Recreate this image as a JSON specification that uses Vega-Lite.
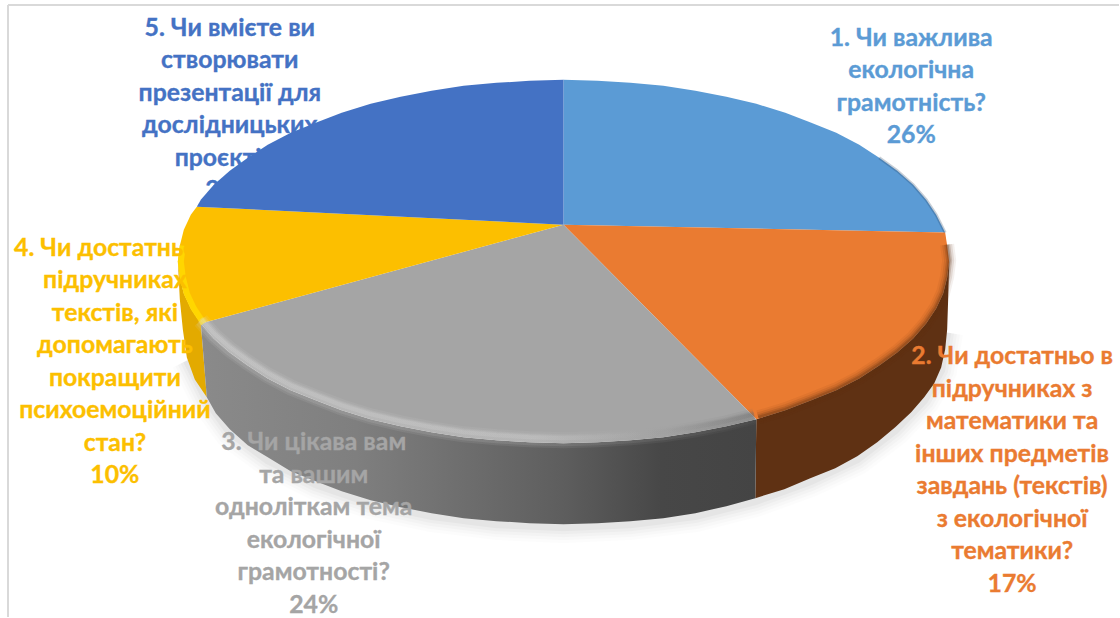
{
  "$schema": "https://vega.github.io/schema/vega-lite/v6.json",
  "width": 1120,
  "height": 618,
  "autosize": {"type": "fit", "contains": "padding"},
  "padding": 0,
  "background": "white",
  "view": {"stroke": null},
  "datasets": {
    "frame": [
      {"x": 8, "y": 5, "x2": 8, "y2": 618},
      {"x": 8, "y": 5, "x2": 1120, "y2": 5}
    ],
    "ground": [
      {"i": 2, "x": 948, "y": 330}, {"i": 3, "x": 942, "y": 368}, {"i": 4, "x": 925, "y": 398},
      {"i": 5, "x": 896, "y": 428}, {"i": 6, "x": 858, "y": 457}, {"i": 7, "x": 811, "y": 479}, {"i": 8, "x": 756, "y": 499},
      {"i": 9, "x": 696, "y": 514}, {"i": 10, "x": 631, "y": 522}, {"i": 11, "x": 564, "y": 525}, {"i": 12, "x": 497, "y": 522},
      {"i": 13, "x": 432, "y": 514}, {"i": 14, "x": 371, "y": 501}, {"i": 15, "x": 316, "y": 482}, {"i": 16, "x": 268, "y": 458},
      {"i": 17, "x": 230, "y": 430}, {"i": 18, "x": 207, "y": 398}, {"i": 19, "x": 187, "y": 358}
    ],
    "wallOrange": [
      {"i": 1, "x": 950, "y": 262}, {"i": 2, "x": 948, "y": 278}, {"i": 3, "x": 944, "y": 294}, {"i": 4, "x": 937, "y": 309},
      {"i": 5, "x": 927, "y": 324}, {"i": 6, "x": 914, "y": 339}, {"i": 7, "x": 898, "y": 353}, {"i": 8, "x": 880, "y": 366},
      {"i": 9, "x": 860, "y": 379}, {"i": 10, "x": 837, "y": 391}, {"i": 11, "x": 812, "y": 401}, {"i": 12, "x": 786, "y": 411},
      {"i": 13, "x": 757, "y": 420}, {"i": 14, "x": 756, "y": 499}, {"i": 15, "x": 785, "y": 490}, {"i": 16, "x": 811, "y": 479},
      {"i": 17, "x": 836, "y": 469}, {"i": 18, "x": 858, "y": 457}, {"i": 19, "x": 878, "y": 443}, {"i": 20, "x": 896, "y": 428},
      {"i": 21, "x": 912, "y": 413}, {"i": 22, "x": 925, "y": 398}, {"i": 23, "x": 935, "y": 384}, {"i": 24, "x": 942, "y": 368},
      {"i": 25, "x": 946, "y": 350}, {"i": 26, "x": 948, "y": 330}, {"i": 27, "x": 949, "y": 300}
    ],
    "wallGray": [
      {"i": 1, "x": 757, "y": 420}, {"i": 2, "x": 727, "y": 427}, {"i": 3, "x": 696, "y": 433}, {"i": 4, "x": 664, "y": 438},
      {"i": 5, "x": 631, "y": 441}, {"i": 6, "x": 598, "y": 443}, {"i": 7, "x": 564, "y": 444}, {"i": 8, "x": 530, "y": 443},
      {"i": 9, "x": 497, "y": 441}, {"i": 10, "x": 464, "y": 438}, {"i": 11, "x": 432, "y": 433}, {"i": 12, "x": 401, "y": 427},
      {"i": 13, "x": 371, "y": 420}, {"i": 14, "x": 342, "y": 411}, {"i": 15, "x": 316, "y": 401}, {"i": 16, "x": 291, "y": 391},
      {"i": 17, "x": 268, "y": 379}, {"i": 18, "x": 248, "y": 366}, {"i": 19, "x": 230, "y": 353}, {"i": 20, "x": 214, "y": 339},
      {"i": 21, "x": 201, "y": 324}, {"i": 22, "x": 207, "y": 398}, {"i": 23, "x": 216, "y": 414}, {"i": 24, "x": 230, "y": 430},
      {"i": 25, "x": 248, "y": 446}, {"i": 26, "x": 268, "y": 458}, {"i": 27, "x": 291, "y": 472}, {"i": 28, "x": 316, "y": 482},
      {"i": 29, "x": 342, "y": 492}, {"i": 30, "x": 371, "y": 501}, {"i": 31, "x": 401, "y": 508}, {"i": 32, "x": 432, "y": 514},
      {"i": 33, "x": 464, "y": 519}, {"i": 34, "x": 497, "y": 522}, {"i": 35, "x": 530, "y": 524}, {"i": 36, "x": 564, "y": 525},
      {"i": 37, "x": 598, "y": 524}, {"i": 38, "x": 631, "y": 522}, {"i": 39, "x": 664, "y": 519}, {"i": 40, "x": 696, "y": 514},
      {"i": 41, "x": 727, "y": 507}, {"i": 42, "x": 756, "y": 499}
    ],
    "wallYellow": [
      {"i": 1, "x": 201, "y": 324}, {"i": 2, "x": 191, "y": 309}, {"i": 3, "x": 184, "y": 294}, {"i": 4, "x": 180, "y": 278},
      {"i": 5, "x": 178, "y": 262}, {"i": 6, "x": 180, "y": 300}, {"i": 7, "x": 183, "y": 330}, {"i": 8, "x": 187, "y": 358},
      {"i": 9, "x": 195, "y": 380}, {"i": 10, "x": 207, "y": 398}
    ],
    "faces": [
      {"q": "q1", "i": 0, "x": 564, "y": 225}, {"q": "q1", "i": 1, "x": 564, "y": 80}, {"q": "q1", "i": 2, "x": 598, "y": 81},
      {"q": "q1", "i": 3, "x": 631, "y": 83}, {"q": "q1", "i": 4, "x": 664, "y": 86}, {"q": "q1", "i": 5, "x": 696, "y": 91},
      {"q": "q1", "i": 6, "x": 727, "y": 97}, {"q": "q1", "i": 7, "x": 757, "y": 104}, {"q": "q1", "i": 8, "x": 786, "y": 113},
      {"q": "q1", "i": 9, "x": 812, "y": 123}, {"q": "q1", "i": 10, "x": 837, "y": 133}, {"q": "q1", "i": 11, "x": 860, "y": 145},
      {"q": "q1", "i": 12, "x": 880, "y": 158}, {"q": "q1", "i": 13, "x": 898, "y": 171}, {"q": "q1", "i": 14, "x": 914, "y": 185},
      {"q": "q1", "i": 15, "x": 927, "y": 200}, {"q": "q1", "i": 16, "x": 937, "y": 215}, {"q": "q1", "i": 17, "x": 946, "y": 233},
      {"q": "q1", "i": 18, "x": 564, "y": 225},

      {"q": "q2", "i": 0, "x": 564, "y": 225}, {"q": "q2", "i": 1, "x": 946, "y": 233}, {"q": "q2", "i": 2, "x": 948, "y": 246},
      {"q": "q2", "i": 3, "x": 950, "y": 262}, {"q": "q2", "i": 4, "x": 948, "y": 278}, {"q": "q2", "i": 5, "x": 944, "y": 294},
      {"q": "q2", "i": 6, "x": 937, "y": 309}, {"q": "q2", "i": 7, "x": 927, "y": 324}, {"q": "q2", "i": 8, "x": 914, "y": 339},
      {"q": "q2", "i": 9, "x": 898, "y": 353}, {"q": "q2", "i": 10, "x": 880, "y": 366}, {"q": "q2", "i": 11, "x": 860, "y": 379},
      {"q": "q2", "i": 12, "x": 837, "y": 391}, {"q": "q2", "i": 13, "x": 812, "y": 401}, {"q": "q2", "i": 14, "x": 786, "y": 411},
      {"q": "q2", "i": 15, "x": 757, "y": 420}, {"q": "q2", "i": 16, "x": 564, "y": 225},

      {"q": "q3", "i": 0, "x": 564, "y": 225}, {"q": "q3", "i": 1, "x": 757, "y": 420}, {"q": "q3", "i": 2, "x": 727, "y": 427},
      {"q": "q3", "i": 3, "x": 696, "y": 433}, {"q": "q3", "i": 4, "x": 664, "y": 438}, {"q": "q3", "i": 5, "x": 631, "y": 441},
      {"q": "q3", "i": 6, "x": 598, "y": 443}, {"q": "q3", "i": 7, "x": 564, "y": 444}, {"q": "q3", "i": 8, "x": 530, "y": 443},
      {"q": "q3", "i": 9, "x": 497, "y": 441}, {"q": "q3", "i": 10, "x": 464, "y": 438}, {"q": "q3", "i": 11, "x": 432, "y": 433},
      {"q": "q3", "i": 12, "x": 401, "y": 427}, {"q": "q3", "i": 13, "x": 371, "y": 420}, {"q": "q3", "i": 14, "x": 342, "y": 411},
      {"q": "q3", "i": 15, "x": 316, "y": 401}, {"q": "q3", "i": 16, "x": 291, "y": 391}, {"q": "q3", "i": 17, "x": 268, "y": 379},
      {"q": "q3", "i": 18, "x": 248, "y": 366}, {"q": "q3", "i": 19, "x": 230, "y": 353}, {"q": "q3", "i": 20, "x": 214, "y": 339},
      {"q": "q3", "i": 21, "x": 201, "y": 324}, {"q": "q3", "i": 22, "x": 564, "y": 225},

      {"q": "q4", "i": 0, "x": 564, "y": 225}, {"q": "q4", "i": 1, "x": 201, "y": 324}, {"q": "q4", "i": 2, "x": 191, "y": 309},
      {"q": "q4", "i": 3, "x": 184, "y": 294}, {"q": "q4", "i": 4, "x": 180, "y": 278}, {"q": "q4", "i": 5, "x": 178, "y": 262},
      {"q": "q4", "i": 6, "x": 180, "y": 246}, {"q": "q4", "i": 7, "x": 184, "y": 230}, {"q": "q4", "i": 8, "x": 191, "y": 215},
      {"q": "q4", "i": 9, "x": 197, "y": 207}, {"q": "q4", "i": 10, "x": 564, "y": 225},

      {"q": "q5", "i": 0, "x": 564, "y": 225}, {"q": "q5", "i": 1, "x": 197, "y": 207}, {"q": "q5", "i": 2, "x": 201, "y": 200},
      {"q": "q5", "i": 3, "x": 214, "y": 185}, {"q": "q5", "i": 4, "x": 230, "y": 171}, {"q": "q5", "i": 5, "x": 248, "y": 158},
      {"q": "q5", "i": 6, "x": 268, "y": 145}, {"q": "q5", "i": 7, "x": 291, "y": 133}, {"q": "q5", "i": 8, "x": 316, "y": 123},
      {"q": "q5", "i": 9, "x": 342, "y": 113}, {"q": "q5", "i": 10, "x": 371, "y": 104}, {"q": "q5", "i": 11, "x": 401, "y": 97},
      {"q": "q5", "i": 12, "x": 432, "y": 91}, {"q": "q5", "i": 13, "x": 464, "y": 86}, {"q": "q5", "i": 14, "x": 497, "y": 83},
      {"q": "q5", "i": 15, "x": 530, "y": 81}, {"q": "q5", "i": 16, "x": 564, "y": 80}, {"q": "q5", "i": 17, "x": 564, "y": 225}
    ],
    "rimGray": [
      {"i": 1, "x": 201, "y": 324}, {"i": 2, "x": 214, "y": 339}, {"i": 3, "x": 230, "y": 353}, {"i": 4, "x": 248, "y": 366},
      {"i": 5, "x": 268, "y": 379}, {"i": 6, "x": 291, "y": 391}, {"i": 7, "x": 316, "y": 401}, {"i": 8, "x": 342, "y": 411},
      {"i": 9, "x": 371, "y": 420}, {"i": 10, "x": 401, "y": 427}, {"i": 11, "x": 432, "y": 433}, {"i": 12, "x": 464, "y": 438},
      {"i": 13, "x": 497, "y": 441}, {"i": 14, "x": 530, "y": 443}, {"i": 15, "x": 564, "y": 444}, {"i": 16, "x": 598, "y": 443},
      {"i": 17, "x": 631, "y": 441}, {"i": 18, "x": 664, "y": 438}, {"i": 19, "x": 696, "y": 433}, {"i": 20, "x": 727, "y": 427},
      {"i": 21, "x": 755, "y": 420}
    ],
    "rimOrange": [
      {"i": 1, "x": 948, "y": 246}, {"i": 2, "x": 950, "y": 262}, {"i": 3, "x": 948, "y": 278}, {"i": 4, "x": 944, "y": 294},
      {"i": 5, "x": 937, "y": 309}, {"i": 6, "x": 927, "y": 324}, {"i": 7, "x": 914, "y": 339}, {"i": 8, "x": 898, "y": 353},
      {"i": 9, "x": 880, "y": 366}, {"i": 10, "x": 860, "y": 379}, {"i": 11, "x": 837, "y": 391}, {"i": 12, "x": 812, "y": 401},
      {"i": 13, "x": 786, "y": 411}, {"i": 14, "x": 759, "y": 419}
    ],
    "rimBlue": [
      {"i": 1, "x": 880, "y": 158}, {"i": 2, "x": 898, "y": 171}, {"i": 3, "x": 914, "y": 185}, {"i": 4, "x": 927, "y": 200},
      {"i": 5, "x": 937, "y": 215}, {"i": 6, "x": 946, "y": 233}
    ],
    "rimYellow": [
      {"i": 1, "x": 201, "y": 324}, {"i": 2, "x": 191, "y": 309}, {"i": 3, "x": 184, "y": 294}, {"i": 4, "x": 180, "y": 278},
      {"i": 5, "x": 178, "y": 262}, {"i": 6, "x": 180, "y": 246}
    ],
    "labels": [
      {"q": "q1", "share": 26, "x": 912, "y": 46, "label": "1. Чи важлива\nекологічна\nграмотність?\n26%"},
      {"q": "q2", "share": 17, "x": 1013, "y": 365, "label": "2. Чи достатньо в\nпідручниках з\nматематики та\nінших предметів\nзавдань (текстів)\nз екологічної\nтематики?\n17%"},
      {"q": "q3", "share": 24, "x": 314, "y": 451, "label": "3. Чи цікава вам\nта вашим\nодноліткам тема\nекологічної\nграмотності?\n24%"},
      {"q": "q4", "share": 10, "x": 115, "y": 256, "label": "4. Чи достатньо в\nпідручниках\nтекстів, які\nдопомагають\nпокращити\nпсихоемоційний\nстан?\n10%"},
      {"q": "q5", "share": 23, "x": 230, "y": 36, "label": "5. Чи вмієте ви\nстворювати\nпрезентації для\nдослідницьких\nпроєктів?\n23%"}
    ]
  },
  "encoding": {
    "x": {"field": "x", "type": "quantitative", "scale": {"domain": [0, 1120]}, "axis": null},
    "y": {"field": "y", "type": "quantitative", "scale": {"domain": [618, 0]}, "axis": null},
    "order": {"field": "i", "type": "quantitative"}
  },
  "layer": [
    {
      "data": {"name": "frame"},
      "mark": {"type": "rule", "stroke": "#d9d9d9", "strokeWidth": 2},
      "encoding": {"x2": {"field": "x2"}, "y2": {"field": "y2"}, "order": null}
    },
    {"data": {"name": "ground"}, "mark": {"type": "line", "stroke": "#000000", "strokeWidth": 32, "opacity": 0.012, "yOffset": 3}},
    {"data": {"name": "ground"}, "mark": {"type": "line", "stroke": "#000000", "strokeWidth": 26, "opacity": 0.016, "yOffset": 3}},
    {"data": {"name": "ground"}, "mark": {"type": "line", "stroke": "#000000", "strokeWidth": 20, "opacity": 0.02, "yOffset": 3}},
    {"data": {"name": "ground"}, "mark": {"type": "line", "stroke": "#000000", "strokeWidth": 14, "opacity": 0.025, "yOffset": 3}},
    {"data": {"name": "ground"}, "mark": {"type": "line", "stroke": "#000000", "strokeWidth": 8, "opacity": 0.03, "yOffset": 3}},
    {"data": {"name": "wallYellow"}, "mark": {"type": "line", "filled": true, "color": "#e3aa00"}},
    {"data": {"name": "wallOrange"}, "mark": {"type": "line", "filled": true, "color": "#5f3113"}},
    {
      "data": {"name": "wallGray"},
      "mark": {
        "type": "line",
        "filled": true,
        "color": {
          "gradient": "linear", "x1": 0, "x2": 1, "y1": 0, "y2": 0,
          "stops": [
            {"offset": 0, "color": "#8a8a8a"},
            {"offset": 0.28, "color": "#7f7f7f"},
            {"offset": 0.65, "color": "#5e5e5e"},
            {"offset": 0.83, "color": "#474747"},
            {"offset": 1, "color": "#444444"}
          ]
        }
      }
    },
    {
      "data": {"name": "faces"},
      "mark": {"type": "line", "filled": true},
      "encoding": {
        "color": {
          "field": "q", "type": "nominal", "legend": null,
          "scale": {
            "domain": ["q1", "q2", "q3", "q4", "q5"],
            "range": ["#5b9bd5", "#ea7b31", "#a5a5a5", "#fcbf00", "#4472c4"]
          }
        }
      }
    },
    {"data": {"name": "rimBlue"}, "mark": {"type": "line", "stroke": "#1f3a5a", "strokeWidth": 3, "opacity": 0.25}},
    {"data": {"name": "rimOrange"}, "mark": {"type": "line", "stroke": "#5f3113", "strokeWidth": 14, "opacity": 0.07, "yOffset": -1}},
    {"data": {"name": "rimOrange"}, "mark": {"type": "line", "stroke": "#5f3113", "strokeWidth": 10, "opacity": 0.12, "yOffset": -1}},
    {"data": {"name": "rimOrange"}, "mark": {"type": "line", "stroke": "#5f3113", "strokeWidth": 6, "opacity": 0.2, "yOffset": -1}},
    {"data": {"name": "rimOrange"}, "mark": {"type": "line", "stroke": "#5f3113", "strokeWidth": 3, "opacity": 0.3, "yOffset": -1}},
    {"data": {"name": "rimYellow"}, "mark": {"type": "line", "stroke": "#ffd800", "strokeWidth": 6, "opacity": 0.9, "xOffset": 3}},
    {
      "data": {"name": "rimGray"},
      "mark": {
        "type": "line", "strokeWidth": 16, "opacity": 0.1, "yOffset": -3,
        "stroke": {
          "gradient": "linear", "x1": 0, "x2": 1, "y1": 0, "y2": 0,
          "stops": [
            {"offset": 0, "color": "#dcdcdc"},
            {"offset": 0.6, "color": "#d0d0d0"},
            {"offset": 0.85, "color": "#9a9a9a"},
            {"offset": 1, "color": "#666666"}
          ]
        }
      }
    },
    {
      "data": {"name": "rimGray"},
      "mark": {
        "type": "line", "strokeWidth": 12, "opacity": 0.14, "yOffset": -3,
        "stroke": {
          "gradient": "linear", "x1": 0, "x2": 1, "y1": 0, "y2": 0,
          "stops": [
            {"offset": 0, "color": "#dcdcdc"},
            {"offset": 0.6, "color": "#d0d0d0"},
            {"offset": 0.85, "color": "#9a9a9a"},
            {"offset": 1, "color": "#666666"}
          ]
        }
      }
    },
    {
      "data": {"name": "rimGray"},
      "mark": {
        "type": "line", "strokeWidth": 8, "opacity": 0.18, "yOffset": -4,
        "stroke": {
          "gradient": "linear", "x1": 0, "x2": 1, "y1": 0, "y2": 0,
          "stops": [
            {"offset": 0, "color": "#dcdcdc"},
            {"offset": 0.6, "color": "#d0d0d0"},
            {"offset": 0.85, "color": "#9a9a9a"},
            {"offset": 1, "color": "#666666"}
          ]
        }
      }
    },
    {
      "data": {"name": "rimGray"},
      "mark": {
        "type": "line", "strokeWidth": 4, "opacity": 0.2, "yOffset": -5,
        "stroke": {
          "gradient": "linear", "x1": 0, "x2": 1, "y1": 0, "y2": 0,
          "stops": [
            {"offset": 0, "color": "#e0e0e0"},
            {"offset": 0.6, "color": "#d4d4d4"},
            {"offset": 0.85, "color": "#9a9a9a"},
            {"offset": 1, "color": "#666666"}
          ]
        }
      }
    },
    {
      "data": {"name": "labels"},
      "mark": {
        "type": "text",
        "font": "Lato",
        "fontWeight": "bold",
        "fontSize": 24.8,
        "align": "center",
        "baseline": "alphabetic",
        "lineBreak": "\n",
        "lineHeight": 32.5,
        "strokeWidth": 0.35
      },
      "encoding": {
        "text": {"field": "label"},
        "order": null,
        "color": {
          "field": "q", "type": "nominal", "legend": null,
          "scale": {
            "domain": ["q1", "q2", "q3", "q4", "q5"],
            "range": ["#5b9bd5", "#ea7b31", "#a5a5a5", "#fcbf00", "#4472c4"]
          }
        },
        "stroke": {
          "field": "q", "type": "nominal", "legend": null,
          "scale": {
            "domain": ["q1", "q2", "q3", "q4", "q5"],
            "range": ["#5b9bd5", "#ea7b31", "#a5a5a5", "#fcbf00", "#4472c4"]
          }
        }
      }
    }
  ]
}
